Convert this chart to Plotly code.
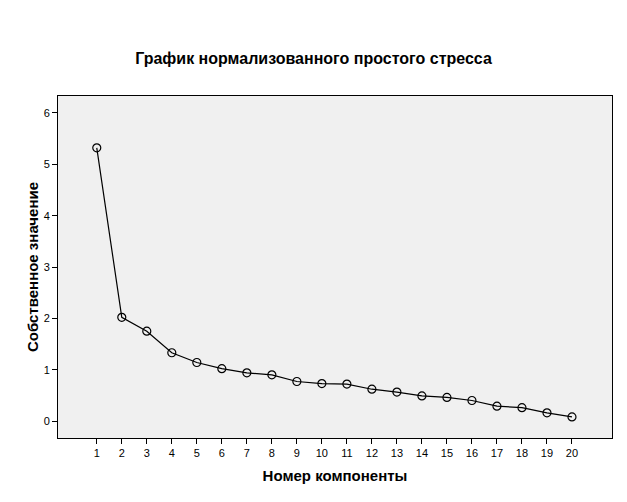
import plotly.graph_objects as go

components = list(range(1, 21))
eigenvalues = [5.32, 2.02, 1.75, 1.33, 1.14, 1.02, 0.94, 0.90, 0.77, 0.73,
               0.72, 0.62, 0.565, 0.49, 0.46, 0.40, 0.29, 0.26, 0.16, 0.08]
y_ticks = [0, 1, 2, 3, 4, 5, 6]

fig = go.Figure(go.Scatter(
    x=components, y=eigenvalues, mode="lines+markers",
    line=dict(color="black", width=1.2),
    marker=dict(symbol="circle-open", size=8, color="black", line=dict(width=1.2)),
    cliponaxis=False,
))

axis_common = dict(
    showline=True, linecolor="black", linewidth=1, mirror=True,
    ticks="outside", ticklen=5, tickcolor="black", showgrid=False, zeroline=False,
    tickfont=dict(family="Arial, Liberation Sans", size=11, color="black"),
)

fig.update_layout(
    width=627, height=502,
    paper_bgcolor="white", plot_bgcolor="#F0F0F0",
    margin=dict(l=58, r=15, t=96, b=64),
    showlegend=False,
    title=dict(text="<b>График нормализованного простого стресса</b>",
               x=0.5, xref="container", xanchor="center",
               y=(502 - 58) / 502, yref="container", yanchor="middle",
               font=dict(family="Arial, Liberation Sans", size=16, color="black")),
    xaxis=dict(axis_common, range=[-0.55, 21.6], tickmode="array",
               tickvals=components, ticktext=[str(c) for c in components],
               title=dict(text="<b>Номер компоненты</b>", standoff=12,
                          font=dict(family="Arial, Liberation Sans", size=15, color="black"))),
    yaxis=dict(axis_common, range=[-0.33, 6.33], tickmode="array",
               tickvals=y_ticks, ticktext=[str(v) for v in y_ticks],
               title=dict(text="<b>Собственное значение</b>", standoff=1,
                          font=dict(family="Arial, Liberation Sans", size=15, color="black"))),
)

fig.write_html("out.html")
